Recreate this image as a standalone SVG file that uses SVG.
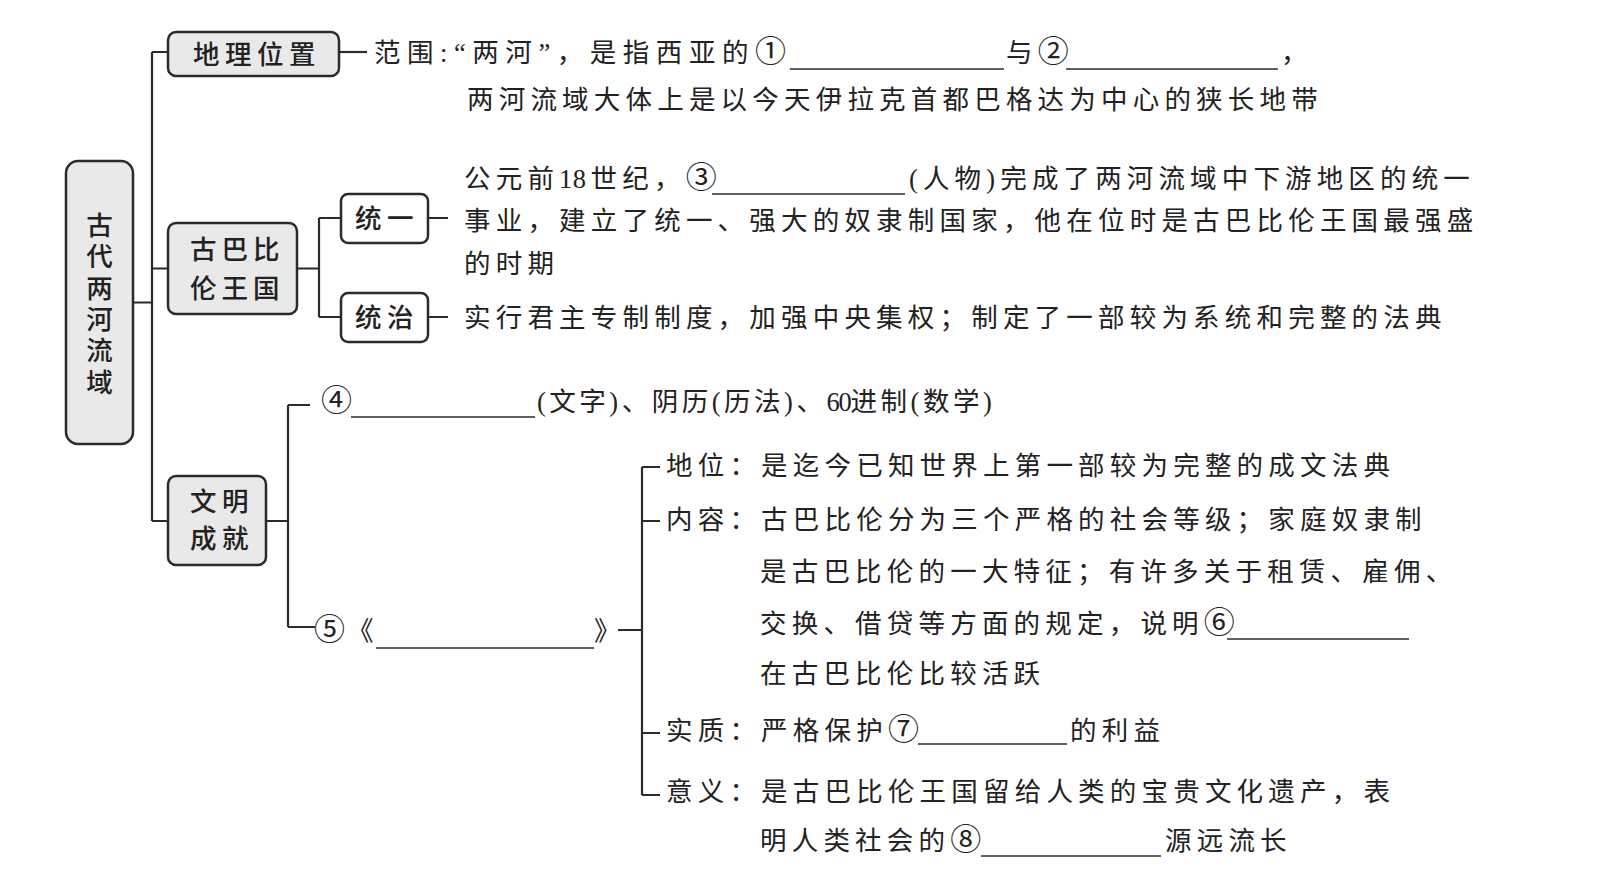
<svg xmlns="http://www.w3.org/2000/svg" width="1619" height="883" viewBox="0 0 1619 883">
<style>
text{font-family:"Liberation Serif","Noto Sans CJK SC",serif;fill:#222;font-size:26.5px;letter-spacing:5.2px}
.c{font-size:31px;letter-spacing:0}
.d{letter-spacing:0.5px}
.bx{fill:#e9e9e9;stroke:#2b2b2b;stroke-width:2.5}
.wb{fill:#fff;stroke:#2b2b2b;stroke-width:2.5}
.ln{fill:none;stroke:#2b2b2b;stroke-width:2.2}
.ul{fill:none;stroke:#2b2b2b;stroke-width:1.6}
.lbl{font-weight:500}
</style>
<rect width="1619" height="883" fill="#fff"/>
<g id="connectors">
<path class="ln" d="M133 302.5H152M152 52V521M152 52H168M152 268.5H168M152 521H168"/>
<path class="ln" d="M339 52H367"/>
<path class="ln" d="M297 268.5H319M319 218V317M319 218H341M319 317H341"/>
<path class="ln" d="M428 218H448M428 317H448"/>
<path class="ln" d="M266 521H288M288 405V627M288 405H310M288 627H315"/>
<path class="ln" d="M618 630H642M642 467V795M642 467H660M642 521H660M642 733H660M642 795H660"/>
</g>
<g id="n-root">
<rect class="bx" x="66" y="161" width="67" height="283" rx="12"/>
<text class="lbl" text-anchor="middle" style="letter-spacing:0"><tspan x="99.5" y="235">古</tspan><tspan x="99.5" y="266">代</tspan><tspan x="99.5" y="298">两</tspan><tspan x="99.5" y="329">河</tspan><tspan x="99.5" y="360">流</tspan><tspan x="99.5" y="392">域</tspan></text>
</g>
<g id="n-geo">
<rect class="bx" x="168" y="32" width="171" height="44" rx="8"/>
<text class="lbl" x="193" y="64" style="letter-spacing:5.5px">地理位置</text>
</g>
<g id="n-babylon">
<rect class="bx" x="168" y="223" width="129" height="91" rx="8"/>
<text class="lbl" x="190" y="259" style="letter-spacing:5px">古巴比</text>
<text class="lbl" x="190" y="298" style="letter-spacing:5px">伦王国</text>
</g>
<g id="n-unify">
<rect class="wb" x="341" y="194" width="87" height="49" rx="7"/>
<text class="lbl" x="355" y="228" style="letter-spacing:5.5px">统一</text>
</g>
<g id="n-rule">
<rect class="wb" x="341" y="293" width="87" height="49" rx="7"/>
<text class="lbl" x="355" y="327" style="letter-spacing:5.5px">统治</text>
</g>
<g id="n-civ">
<rect class="bx" x="168" y="476" width="98" height="89" rx="8"/>
<text class="lbl" x="190" y="511" style="letter-spacing:5.5px">文明</text>
<text class="lbl" x="190" y="548" style="letter-spacing:5.5px">成就</text>
</g>
<g id="t-geo">
<text x="374" y="62" textLength="412" lengthAdjust="spacing">范围:“两河”，是指西亚的<tspan class="c">①</tspan></text>
<line class="ul" x1="790" y1="69" x2="1004" y2="69"/>
<text x="1006" y="62">与<tspan class="c">②</tspan></text>
<line class="ul" x1="1066" y1="69" x2="1278" y2="69"/>
<text x="1281" y="62">，</text>
<text x="467" y="109">两河流域大体上是以今天伊拉克首都巴格达为中心的狭长地带</text>
</g>
<g id="t-unify">
<text x="464" y="188">公元前<tspan class="d">18</tspan><tspan dx="4">世纪，</tspan><tspan class="c">③</tspan></text>
<line class="ul" x1="712" y1="194" x2="905" y2="194"/>
<text x="909" y="188" textLength="566" lengthAdjust="spacing">(人物)完成了两河流域中下游地区的统一</text>
<text x="464" y="230">事业，建立了统一、强大的奴隶制国家，他在位时是古巴比伦王国最强盛</text>
<text x="464" y="273">的时期</text>
</g>
<g id="t-rule">
<text x="464" y="327">实行君主专制制度，加强中央集权；制定了一部较为系统和完整的法典</text>
</g>
<g id="t-writing">
<text x="321" y="411" class="c">④</text>
<line class="ul" x1="351" y1="417" x2="535" y2="417"/>
<text x="537" y="411" textLength="460" lengthAdjust="spacing">(文字)、阴历(历法)、<tspan class="d">60</tspan>进制(数学)</text>
</g>
<g id="t-code">
<text x="314" y="640"><tspan class="c">⑤</tspan><tspan dx="2">《</tspan></text>
<line class="ul" x1="376" y1="648" x2="594" y2="648"/>
<text x="594" y="640" style="letter-spacing:0">》</text>
</g>
<g id="t-code-items">
<text x="666" y="475">地位：是迄今已知世界上第一部较为完整的成文法典</text>
<text x="666" y="529">内容：古巴比伦分为三个严格的社会等级；家庭奴隶制</text>
<text x="760" y="581">是古巴比伦的一大特征；有许多关于租赁、雇佣、</text>
<text x="760" y="633">交换、借贷等方面的规定，说明<tspan class="c">⑥</tspan></text>
<line class="ul" x1="1227" y1="639" x2="1409" y2="639"/>
<text x="760" y="683">在古巴比伦比较活跃</text>
<text x="666" y="740">实质：严格保护<tspan class="c">⑦</tspan></text>
<line class="ul" x1="918" y1="744" x2="1067" y2="744"/>
<text x="1070" y="740">的利益</text>
<text x="666" y="801">意义：是古巴比伦王国留给人类的宝贵文化遗产，表</text>
<text x="760" y="850">明人类社会的<tspan class="c">⑧</tspan></text>
<line class="ul" x1="981" y1="856" x2="1161" y2="856"/>
<text x="1165" y="850">源远流长</text>
</g>
</svg>
